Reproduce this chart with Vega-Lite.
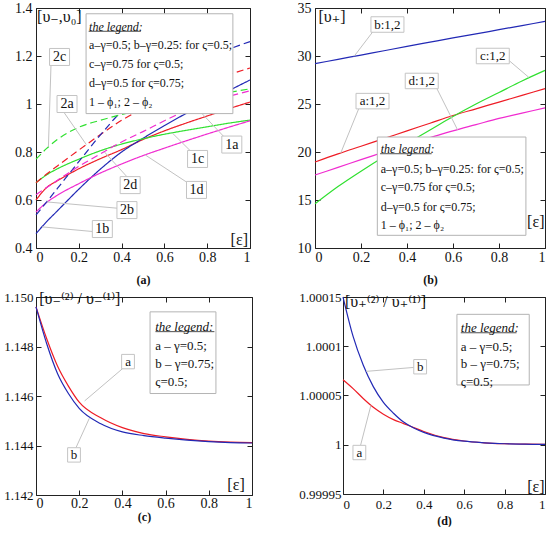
{
  "$schema": "https://vega.github.io/schema/vega-lite/v6.json",
  "padding": {"left": 0, "top": 0, "right": 0, "bottom": 0},
  "background": "white",
  "config": {
    "font": "Liberation Serif, DejaVu Serif, serif",
    "view": {"stroke": "#222", "strokeWidth": 1},
    "axis": {"grid": false, "domain": false, "tickSize": -5, "tickColor": "#222", "tickWidth": 1, "labelColor": "#111", "titleColor": "#111", "labelFont": "Liberation Serif, DejaVu Serif, serif", "titleFont": "Liberation Serif, DejaVu Serif, serif"},
    "text": {"font": "Liberation Serif, DejaVu Serif, serif"}
  },
  "datasets": {
    "a_lines": [
      {"g":"a","k":"1","x":0,"y":0.6},{"g":"a","k":"1","x":0.05,"y":0.652},{"g":"a","k":"1","x":0.1,"y":0.68},{"g":"a","k":"1","x":0.2,"y":0.73},{"g":"a","k":"1","x":0.3,"y":0.772},{"g":"a","k":"1","x":0.4,"y":0.81},{"g":"a","k":"1","x":0.5,"y":0.852},{"g":"a","k":"1","x":0.6,"y":0.888},{"g":"a","k":"1","x":0.7,"y":0.92},{"g":"a","k":"1","x":0.8,"y":0.95},{"g":"a","k":"1","x":0.9,"y":0.98},{"g":"a","k":"1","x":1,"y":1.008},
      {"g":"b","k":"1","x":0,"y":0.46},{"g":"b","k":"1","x":0.05,"y":0.51},{"g":"b","k":"1","x":0.1,"y":0.555},{"g":"b","k":"1","x":0.2,"y":0.645},{"g":"b","k":"1","x":0.3,"y":0.728},{"g":"b","k":"1","x":0.4,"y":0.8},{"g":"b","k":"1","x":0.5,"y":0.857},{"g":"b","k":"1","x":0.6,"y":0.91},{"g":"b","k":"1","x":0.7,"y":0.96},{"g":"b","k":"1","x":0.8,"y":1.008},{"g":"b","k":"1","x":0.9,"y":1.055},{"g":"b","k":"1","x":1,"y":1.1},
      {"g":"c","k":"1","x":0,"y":0.672},{"g":"c","k":"1","x":0.05,"y":0.705},{"g":"c","k":"1","x":0.1,"y":0.73},{"g":"c","k":"1","x":0.2,"y":0.77},{"g":"c","k":"1","x":0.3,"y":0.805},{"g":"c","k":"1","x":0.4,"y":0.833},{"g":"c","k":"1","x":0.5,"y":0.855},{"g":"c","k":"1","x":0.6,"y":0.874},{"g":"c","k":"1","x":0.7,"y":0.89},{"g":"c","k":"1","x":0.8,"y":0.905},{"g":"c","k":"1","x":0.9,"y":0.92},{"g":"c","k":"1","x":1,"y":0.933},
      {"g":"d","k":"1","x":0,"y":0.55},{"g":"d","k":"1","x":0.05,"y":0.59},{"g":"d","k":"1","x":0.1,"y":0.62},{"g":"d","k":"1","x":0.2,"y":0.668},{"g":"d","k":"1","x":0.3,"y":0.712},{"g":"d","k":"1","x":0.4,"y":0.75},{"g":"d","k":"1","x":0.5,"y":0.785},{"g":"d","k":"1","x":0.6,"y":0.816},{"g":"d","k":"1","x":0.7,"y":0.846},{"g":"d","k":"1","x":0.8,"y":0.875},{"g":"d","k":"1","x":0.9,"y":0.903},{"g":"d","k":"1","x":1,"y":0.93},
      {"g":"a","k":"2","x":0,"y":0.672},{"g":"a","k":"2","x":0.05,"y":0.708},{"g":"a","k":"2","x":0.1,"y":0.742},{"g":"a","k":"2","x":0.2,"y":0.808},{"g":"a","k":"2","x":0.3,"y":0.872},{"g":"a","k":"2","x":0.4,"y":0.932},{"g":"a","k":"2","x":0.5,"y":0.98},{"g":"a","k":"2","x":0.6,"y":1.02},{"g":"a","k":"2","x":0.7,"y":1.057},{"g":"a","k":"2","x":0.8,"y":1.09},{"g":"a","k":"2","x":0.9,"y":1.122},{"g":"a","k":"2","x":1,"y":1.15},
      {"g":"b","k":"2","x":0,"y":0.538},{"g":"b","k":"2","x":0.05,"y":0.592},{"g":"b","k":"2","x":0.1,"y":0.648},{"g":"b","k":"2","x":0.2,"y":0.76},{"g":"b","k":"2","x":0.3,"y":0.87},{"g":"b","k":"2","x":0.4,"y":0.97},{"g":"b","k":"2","x":0.5,"y":1.045},{"g":"b","k":"2","x":0.6,"y":1.103},{"g":"b","k":"2","x":0.7,"y":1.15},{"g":"b","k":"2","x":0.8,"y":1.192},{"g":"b","k":"2","x":0.9,"y":1.228},{"g":"b","k":"2","x":1,"y":1.26},
      {"g":"c","k":"2","x":0,"y":0.77},{"g":"c","k":"2","x":0.05,"y":0.815},{"g":"c","k":"2","x":0.1,"y":0.852},{"g":"c","k":"2","x":0.2,"y":0.903},{"g":"c","k":"2","x":0.3,"y":0.932},{"g":"c","k":"2","x":0.4,"y":0.956},{"g":"c","k":"2","x":0.5,"y":0.978},{"g":"c","k":"2","x":0.6,"y":0.997},{"g":"c","k":"2","x":0.7,"y":1.015},{"g":"c","k":"2","x":0.8,"y":1.032},{"g":"c","k":"2","x":0.9,"y":1.048},{"g":"c","k":"2","x":1,"y":1.063},
      {"g":"d","k":"2","x":0,"y":0.622},{"g":"d","k":"2","x":0.05,"y":0.652},{"g":"d","k":"2","x":0.1,"y":0.682},{"g":"d","k":"2","x":0.2,"y":0.74},{"g":"d","k":"2","x":0.3,"y":0.792},{"g":"d","k":"2","x":0.4,"y":0.842},{"g":"d","k":"2","x":0.5,"y":0.885},{"g":"d","k":"2","x":0.6,"y":0.93},{"g":"d","k":"2","x":0.7,"y":0.972},{"g":"d","k":"2","x":0.8,"y":1.006},{"g":"d","k":"2","x":0.9,"y":1.032},{"g":"d","k":"2","x":1,"y":1.055}
    ],
    "a_seg": [
      {"role":"lead","x":0.07,"y":1.16,"x2":0.058,"y2":0.822},
      {"role":"lead","x":0.13,"y":0.966,"x2":0.235,"y2":0.831},
      {"role":"lead","x":0.425,"y":0.697,"x2":0.32,"y2":0.8},
      {"role":"lead","x":0.39,"y":0.565,"x2":0.05,"y2":0.592},
      {"role":"lead","x":0.273,"y":0.468,"x2":0.028,"y2":0.488},
      {"role":"lead","x":0.715,"y":0.668,"x2":0.51,"y2":0.788},
      {"role":"lead","x":0.727,"y":0.8,"x2":0.636,"y2":0.88},
      {"role":"lead","x":0.88,"y":0.862,"x2":0.76,"y2":0.975},
      {"role":"ul","x":0.246,"y":1.303,"x2":0.49,"y2":1.303}
    ],
    "a_rect": [{"x":0.234,"x2":0.92,"y":0.96,"y2":1.376}],
    "a_txt": [
      {"role":"head","t":"the legend:","x":0.248,"y":1.321},
      {"role":"leg","t":"a–γ=0.5; b–γ=0.25: for ς=0.5;","x":0.248,"y":1.245},
      {"role":"leg","t":"c–γ=0.75 for ς=0.5;","x":0.248,"y":1.168},
      {"role":"leg","t":"d–γ=0.5 for ς=0.75;","x":0.248,"y":1.0875},
      {"role":"leg","t":"1 – ϕ₁; 2 – ϕ₂","x":0.248,"y":1.008},
      {"role":"box","t":"2c","x":0.11,"y":1.196},
      {"role":"box","t":"2a","x":0.145,"y":1.0},
      {"role":"box","t":"2d","x":0.44,"y":0.662},
      {"role":"box","t":"2b","x":0.425,"y":0.558},
      {"role":"box","t":"1b","x":0.31,"y":0.479},
      {"role":"box","t":"1d","x":0.75,"y":0.642},
      {"role":"box","t":"1c","x":0.755,"y":0.771},
      {"role":"box","t":"1a","x":0.915,"y":0.831},
      {"role":"ttl","t":"[υ₋,υ₀]","x":0.005,"y":1.3625},
      {"role":"eps","t":"[ε]","x":0.95,"y":0.433}
    ],
    "b_lines": [
      {"g":"a","x":0,"y":18.95},{"g":"a","x":0.1,"y":19.8},{"g":"a","x":0.2,"y":20.6},{"g":"a","x":0.3,"y":21.4},{"g":"a","x":0.4,"y":22.2},{"g":"a","x":0.5,"y":23.0},{"g":"a","x":0.6,"y":23.8},{"g":"a","x":0.7,"y":24.5},{"g":"a","x":0.8,"y":25.2},{"g":"a","x":0.9,"y":25.9},{"g":"a","x":1,"y":26.6},
      {"g":"b","x":0,"y":29.2},{"g":"b","x":0.1,"y":29.65},{"g":"b","x":0.2,"y":30.1},{"g":"b","x":0.3,"y":30.55},{"g":"b","x":0.4,"y":31.0},{"g":"b","x":0.5,"y":31.44},{"g":"b","x":0.6,"y":31.88},{"g":"b","x":0.7,"y":32.3},{"g":"b","x":0.8,"y":32.74},{"g":"b","x":0.9,"y":33.17},{"g":"b","x":1,"y":33.6},
      {"g":"c","x":0,"y":14.6},{"g":"c","x":0.1,"y":16.4},{"g":"c","x":0.2,"y":18.0},{"g":"c","x":0.3,"y":19.5},{"g":"c","x":0.4,"y":20.9},{"g":"c","x":0.5,"y":22.3},{"g":"c","x":0.6,"y":23.7},{"g":"c","x":0.7,"y":25.0},{"g":"c","x":0.8,"y":26.2},{"g":"c","x":0.9,"y":27.4},{"g":"c","x":1,"y":28.5},
      {"g":"d","x":0,"y":17.6},{"g":"d","x":0.1,"y":18.4},{"g":"d","x":0.2,"y":19.2},{"g":"d","x":0.3,"y":20.0},{"g":"d","x":0.4,"y":20.8},{"g":"d","x":0.5,"y":21.5},{"g":"d","x":0.6,"y":22.2},{"g":"d","x":0.7,"y":22.85},{"g":"d","x":0.8,"y":23.5},{"g":"d","x":0.9,"y":24.05},{"g":"d","x":1,"y":24.6}
    ],
    "b_seg": [
      {"role":"lead","x":0.25,"y":32.48,"x2":0.17,"y2":29.97},
      {"role":"lead","x":0.845,"y":29.5,"x2":0.93,"y2":27.77},
      {"role":"lead","x":0.53,"y":26.6,"x2":0.62,"y2":22.3},
      {"role":"lead","x":0.19,"y":24.5,"x2":0.112,"y2":19.9},
      {"role":"ul","x":0.283,"y":19.82,"x2":0.507,"y2":19.82}
    ],
    "b_rect": [{"x":0.271,"x2":0.917,"y":11.32,"y2":21.56}],
    "b_txt": [
      {"role":"head","t":"the legend:","x":0.286,"y":20.34},
      {"role":"leg","t":"a–γ=0.5; b–γ=0.25: for ς=0.5;","x":0.286,"y":18.26},
      {"role":"leg","t":"c–γ=0.75 for ς=0.5;","x":0.286,"y":16.35},
      {"role":"leg","t":"d–γ=0.5 for ς=0.75;","x":0.286,"y":14.27},
      {"role":"leg","t":"1 – ϕ₁; 2 – ϕ₂","x":0.286,"y":12.36},
      {"role":"box","t":"b:1,2","x":0.315,"y":33.28},
      {"role":"box","t":"c:1,2","x":0.773,"y":30.0},
      {"role":"box","t":"d:1,2","x":0.464,"y":27.4},
      {"role":"box","t":"a:1,2","x":0.25,"y":25.3},
      {"role":"ttl","t":"[υ₊]","x":0.015,"y":34.06},
      {"role":"eps","t":"[ε]","x":0.96,"y":12.7}
    ],
    "c_lines": [
      {"g":"a","x":0,"y":1.1496},{"g":"a","x":0.05,"y":1.1483},{"g":"a","x":0.1,"y":1.1472},{"g":"a","x":0.15,"y":1.1464},{"g":"a","x":0.2,"y":1.14575},{"g":"a","x":0.3,"y":1.14512},{"g":"a","x":0.4,"y":1.14472},{"g":"a","x":0.5,"y":1.14448},{"g":"a","x":0.6,"y":1.14435},{"g":"a","x":0.7,"y":1.14425},{"g":"a","x":0.8,"y":1.14418},{"g":"a","x":0.9,"y":1.14414},{"g":"a","x":1,"y":1.14412},
      {"g":"b","x":0,"y":1.1496},{"g":"b","x":0.05,"y":1.1481},{"g":"b","x":0.1,"y":1.1469},{"g":"b","x":0.15,"y":1.1461},{"g":"b","x":0.2,"y":1.1455},{"g":"b","x":0.3,"y":1.14488},{"g":"b","x":0.4,"y":1.14455},{"g":"b","x":0.5,"y":1.1444},{"g":"b","x":0.6,"y":1.1443},{"g":"b","x":0.7,"y":1.14422},{"g":"b","x":0.8,"y":1.14416},{"g":"b","x":0.9,"y":1.14412},{"g":"b","x":1,"y":1.1441}
    ],
    "c_seg": [
      {"role":"lead","x":0.4,"y":1.1471,"x2":0.225,"y2":1.1458},
      {"role":"lead","x":0.185,"y":1.14391,"x2":0.247,"y2":1.1451},
      {"role":"ul","x":0.553,"y":1.1486,"x2":0.826,"y2":1.1486}
    ],
    "c_rect": [{"x":0.528,"x2":0.833,"y":1.1461,"y2":1.1494}],
    "c_txt": [
      {"role":"head","t":"the legend:","x":0.552,"y":1.1488},
      {"role":"leg","t":"a – γ=0.5;","x":0.552,"y":1.14803},
      {"role":"leg","t":"b – γ=0.75;","x":0.552,"y":1.14728},
      {"role":"leg","t":"ς=0.5;","x":0.552,"y":1.14655},
      {"role":"box","t":"a","x":0.426,"y":1.14739},
      {"role":"box","t":"b","x":0.176,"y":1.14362},
      {"role":"ttl","t":"[υ₋⁽²⁾ / υ₋⁽¹⁾]","x":0.015,"y":1.1499},
      {"role":"eps","t":"[ε]","x":0.926,"y":1.1424}
    ],
    "d_lines": [
      {"g":"a","x":0,"y":1.000066},{"g":"a","x":0.05,"y":1.000057},{"g":"a","x":0.1,"y":1.000047},{"g":"a","x":0.15,"y":1.000038},{"g":"a","x":0.2,"y":1.000031},{"g":"a","x":0.25,"y":1.0000255},{"g":"a","x":0.3,"y":1.0000215},{"g":"a","x":0.35,"y":1.0000175},{"g":"a","x":0.4,"y":1.0000135},{"g":"a","x":0.5,"y":1.0000072},{"g":"a","x":0.6,"y":1.0000038},{"g":"a","x":0.7,"y":1.000002},{"g":"a","x":0.8,"y":1.0000011},{"g":"a","x":0.9,"y":1.0000006},{"g":"a","x":1,"y":1.0000003},
      {"g":"b","x":0,"y":1.00015},{"g":"b","x":0.05,"y":1.00011},{"g":"b","x":0.1,"y":1.000081},{"g":"b","x":0.15,"y":1.000059},{"g":"b","x":0.2,"y":1.000043},{"g":"b","x":0.25,"y":1.000032},{"g":"b","x":0.3,"y":1.000023},{"g":"b","x":0.35,"y":1.000017},{"g":"b","x":0.4,"y":1.0000126},{"g":"b","x":0.5,"y":1.0000068},{"g":"b","x":0.6,"y":1.0000036},{"g":"b","x":0.7,"y":1.000002},{"g":"b","x":0.8,"y":1.000001},{"g":"b","x":0.9,"y":1.0000006},{"g":"b","x":1,"y":1.0000003}
    ],
    "d_seg": [
      {"role":"lead","x":0.35,"y":1.0000785,"x2":0.115,"y2":1.0000745},
      {"role":"lead","x":0.087,"y":0.9999994,"x2":0.138,"y2":1.00004},
      {"role":"ul","x":0.583,"y":1.0001137,"x2":0.859,"y2":1.0001137}
    ],
    "d_rect": [{"x":0.564,"x2":0.922,"y":1.0000607,"y2":1.0001324}],
    "d_txt": [
      {"role":"head","t":"the legend:","x":0.583,"y":1.0001182},
      {"role":"leg","t":"a – γ=0.5;","x":0.583,"y":1.0000995},
      {"role":"leg","t":"b – γ=0.75;","x":0.583,"y":1.0000817},
      {"role":"leg","t":"ς=0.5;","x":0.583,"y":1.0000634},
      {"role":"box","t":"b","x":0.382,"y":1.0000792},
      {"role":"box","t":"a","x":0.081,"y":0.9999921},
      {"role":"ttl","t":"[υ₊⁽²⁾ / υ₊⁽¹⁾]","x":0.01,"y":1.0001452},
      {"role":"eps","t":"[ε]","x":0.955,"y":0.9999574}
    ]
  },
  "columns": 1,
  "align": "none",
  "spacing": 4,
  "concat": [
    {
      "bounds": "flush",
      "spacing": 65,
      "hconcat": [
        {
          "width": 214,
          "height": 240,
          "encoding": {
            "x": {"field": "x", "type": "quantitative", "scale": {"domain": [0, 1], "nice": false, "zero": false}, "axis": null},
            "y": {"field": "y", "type": "quantitative", "scale": {"domain": [0.4, 1.4], "nice": false, "zero": false}, "axis": null}
          },
          "layer": [
            {
              "data": {"name": "a_lines"},
              "mark": {"type": "line", "strokeWidth": 1.2, "interpolate": "monotone"},
              "encoding": {
                "x": {"field": "x", "type": "quantitative", "scale": {"domain": [0, 1], "nice": false, "zero": false},
                      "axis": {"orient": "bottom", "values": [0, 0.2, 0.4, 0.6, 0.8, 1], "format": ".1~f", "labelPadding": 7, "labelFontSize": 14, "title": "(a)", "titleFontSize": 12, "titleFontWeight": "bold", "titlePadding": 8, "minExtent": 18, "maxExtent": 18}},
                "y": {"field": "y", "type": "quantitative", "scale": {"domain": [0.4, 1.4], "nice": false, "zero": false},
                      "axis": {"orient": "left", "values": [0.4, 0.6, 0.8, 1, 1.2, 1.4], "format": ".1~f", "labelPadding": 9, "labelFontSize": 14, "title": null, "minExtent": 35, "maxExtent": 35}},
                "color": {"field": "g", "type": "nominal", "scale": {"domain": ["a", "b", "c", "d"], "range": ["#ee1c25", "#2229b5", "#2fe02f", "#f02bd0"]}, "legend": null},
                "strokeDash": {"field": "k", "type": "nominal", "scale": {"domain": ["1", "2"], "range": [[1, 0], [7, 4]]}, "legend": null}
              }
            },
            {
              "data": {"name": "a_seg"},
              "transform": [{"filter": "datum.role == 'lead'"}],
              "mark": {"type": "rule", "stroke": "#c2c2c2", "strokeWidth": 1},
              "encoding": {
                "x": {"field": "x", "type": "quantitative", "scale": {"domain": [0, 1], "nice": false, "zero": false},
                      "axis": {"orient": "top", "values": [0, 0.2, 0.4, 0.6, 0.8, 1], "labels": false, "title": null, "minExtent": 0, "maxExtent": 0}},
                "y": {"field": "y", "type": "quantitative", "scale": {"domain": [0.4, 1.4], "nice": false, "zero": false},
                      "axis": {"orient": "right", "values": [0.4, 0.6, 0.8, 1, 1.2, 1.4], "labels": false, "title": null, "minExtent": 0, "maxExtent": 0}},
                "x2": {"field": "x2"},
                "y2": {"field": "y2"}
              }
            },
            {
              "data": {"name": "a_rect"},
              "mark": {"type": "rect", "fill": "white", "stroke": "#b4b4b4", "strokeWidth": 1},
              "encoding": {"x2": {"field": "x2"}, "y2": {"field": "y2"}}
            },
            {
              "data": {"name": "a_seg"},
              "transform": [{"filter": "datum.role == 'ul'"}],
              "mark": {"type": "rule", "stroke": "#222", "strokeWidth": 0.8},
              "encoding": {"x2": {"field": "x2"}}
            },
            {
              "data": {"name": "a_txt"},
              "transform": [{"filter": "datum.role == 'head'"}],
              "mark": {"type": "text", "fontSize": 12, "fontStyle": "italic", "align": "left", "baseline": "middle", "fill": "#111"},
              "encoding": {"text": {"field": "t"}}
            },
            {
              "data": {"name": "a_txt"},
              "transform": [{"filter": "datum.role == 'leg'"}],
              "mark": {"type": "text", "fontSize": 12, "align": "left", "baseline": "middle", "fill": "#111"},
              "encoding": {"text": {"field": "t"}}
            },
            {
              "data": {"name": "a_txt"},
              "transform": [{"filter": "datum.role == 'box'"}],
              "mark": {"type": "point", "shape": "M-1,-0.85H1V0.85H-1Z", "size": 400, "filled": true, "fill": "white", "stroke": "#c4c4c4", "strokeWidth": 1, "opacity": 1}
            },
            {
              "data": {"name": "a_txt"},
              "transform": [{"filter": "datum.role == 'box'"}],
              "mark": {"type": "text", "fontSize": 14, "align": "center", "baseline": "middle", "fill": "#111"},
              "encoding": {"text": {"field": "t"}}
            },
            {
              "data": {"name": "a_txt"},
              "transform": [{"filter": "datum.role == 'ttl'"}],
              "mark": {"type": "text", "fontSize": 16, "align": "left", "baseline": "middle", "fill": "#111"},
              "encoding": {"text": {"field": "t"}}
            },
            {
              "data": {"name": "a_txt"},
              "transform": [{"filter": "datum.role == 'eps'"}],
              "mark": {"type": "text", "fontSize": 16, "align": "center", "baseline": "middle", "fill": "#111"},
              "encoding": {"text": {"field": "t"}}
            }
          ],
          "resolve": {"axis": {"x": "independent", "y": "independent"}}
        },
        {
          "width": 230,
          "height": 240,
          "encoding": {
            "x": {"field": "x", "type": "quantitative", "scale": {"domain": [0, 1], "nice": false, "zero": false}, "axis": null},
            "y": {"field": "y", "type": "quantitative", "scale": {"domain": [10, 35], "nice": false, "zero": false}, "axis": null}
          },
          "layer": [
            {
              "data": {"name": "b_lines"},
              "mark": {"type": "line", "strokeWidth": 1.2, "interpolate": "monotone"},
              "encoding": {
                "x": {"field": "x", "type": "quantitative", "scale": {"domain": [0, 1], "nice": false, "zero": false},
                      "axis": {"orient": "bottom", "values": [0, 0.2, 0.4, 0.6, 0.8, 1], "format": ".1~f", "labelPadding": 7, "labelFontSize": 14, "title": "(b)", "titleFontSize": 12, "titleFontWeight": "bold", "titlePadding": 8, "minExtent": 18, "maxExtent": 18}},
                "y": {"field": "y", "type": "quantitative", "scale": {"domain": [10, 35], "nice": false, "zero": false},
                      "axis": {"orient": "left", "values": [10, 15, 20, 25, 30, 35], "format": "d", "labelPadding": 9, "labelFontSize": 14, "title": null, "minExtent": 30, "maxExtent": 30}},
                "color": {"field": "g", "type": "nominal", "scale": {"domain": ["a", "b", "c", "d"], "range": ["#ee1c25", "#2229b5", "#2fe02f", "#f02bd0"]}, "legend": null}
              }
            },
            {
              "data": {"name": "b_seg"},
              "transform": [{"filter": "datum.role == 'lead'"}],
              "mark": {"type": "rule", "stroke": "#c2c2c2", "strokeWidth": 1},
              "encoding": {
                "x": {"field": "x", "type": "quantitative", "scale": {"domain": [0, 1], "nice": false, "zero": false},
                      "axis": {"orient": "top", "values": [0, 0.2, 0.4, 0.6, 0.8, 1], "labels": false, "title": null, "minExtent": 0, "maxExtent": 0}},
                "y": {"field": "y", "type": "quantitative", "scale": {"domain": [10, 35], "nice": false, "zero": false},
                      "axis": {"orient": "right", "values": [10, 15, 20, 25, 30, 35], "labels": false, "title": null, "minExtent": 0, "maxExtent": 0}},
                "x2": {"field": "x2"},
                "y2": {"field": "y2"}
              }
            },
            {
              "data": {"name": "b_rect"},
              "mark": {"type": "rect", "fill": "white", "stroke": "#b4b4b4", "strokeWidth": 1},
              "encoding": {"x2": {"field": "x2"}, "y2": {"field": "y2"}}
            },
            {
              "data": {"name": "b_seg"},
              "transform": [{"filter": "datum.role == 'ul'"}],
              "mark": {"type": "rule", "stroke": "#222", "strokeWidth": 0.8},
              "encoding": {"x2": {"field": "x2"}}
            },
            {
              "data": {"name": "b_txt"},
              "transform": [{"filter": "datum.role == 'head'"}],
              "mark": {"type": "text", "fontSize": 12, "fontStyle": "italic", "align": "left", "baseline": "middle", "fill": "#111"},
              "encoding": {"text": {"field": "t"}}
            },
            {
              "data": {"name": "b_txt"},
              "transform": [{"filter": "datum.role == 'leg'"}],
              "mark": {"type": "text", "fontSize": 12, "align": "left", "baseline": "middle", "fill": "#111"},
              "encoding": {"text": {"field": "t"}}
            },
            {
              "data": {"name": "b_txt"},
              "transform": [{"filter": "datum.role == 'box'"}],
              "mark": {"type": "point", "shape": "M-1,-0.47H1V0.47H-1Z", "size": 1089, "filled": true, "fill": "white", "stroke": "#c4c4c4", "strokeWidth": 1, "opacity": 1}
            },
            {
              "data": {"name": "b_txt"},
              "transform": [{"filter": "datum.role == 'box'"}],
              "mark": {"type": "text", "fontSize": 13, "align": "center", "baseline": "middle", "fill": "#111"},
              "encoding": {"text": {"field": "t"}}
            },
            {
              "data": {"name": "b_txt"},
              "transform": [{"filter": "datum.role == 'ttl'"}],
              "mark": {"type": "text", "fontSize": 16, "align": "left", "baseline": "middle", "fill": "#111"},
              "encoding": {"text": {"field": "t"}}
            },
            {
              "data": {"name": "b_txt"},
              "transform": [{"filter": "datum.role == 'eps'"}],
              "mark": {"type": "text", "fontSize": 16, "align": "center", "baseline": "middle", "fill": "#111"},
              "encoding": {"text": {"field": "t"}}
            }
          ],
          "resolve": {"axis": {"x": "independent", "y": "independent"}}
        }
      ]
    },
    {
      "bounds": "flush",
      "spacing": 91,
      "hconcat": [
        {
          "width": 216,
          "height": 198,
          "encoding": {
            "x": {"field": "x", "type": "quantitative", "scale": {"domain": [0, 1], "nice": false, "zero": false}, "axis": null},
            "y": {"field": "y", "type": "quantitative", "scale": {"domain": [1.142, 1.15], "nice": false, "zero": false}, "axis": null}
          },
          "layer": [
            {
              "data": {"name": "c_lines"},
              "mark": {"type": "line", "strokeWidth": 1.2, "interpolate": "monotone"},
              "encoding": {
                "x": {"field": "x", "type": "quantitative", "scale": {"domain": [0, 1], "nice": false, "zero": false},
                      "axis": {"orient": "bottom", "values": [0, 0.2, 0.4, 0.6, 0.8, 1], "format": ".1~f", "labelPadding": 6, "labelFontSize": 14, "title": "(c)", "titleFontSize": 12, "titleFontWeight": "bold", "titlePadding": 0, "minExtent": 16, "maxExtent": 16}},
                "y": {"field": "y", "type": "quantitative", "scale": {"domain": [1.142, 1.15], "nice": false, "zero": false},
                      "axis": {"orient": "left", "values": [1.142, 1.144, 1.146, 1.148, 1.15], "format": ".3f", "labelPadding": 8, "labelFontSize": 13, "title": null, "minExtent": 35, "maxExtent": 35}},
                "color": {"field": "g", "type": "nominal", "scale": {"domain": ["a", "b"], "range": ["#ee1c25", "#2229b5"]}, "legend": null}
              }
            },
            {
              "data": {"name": "c_seg"},
              "transform": [{"filter": "datum.role == 'lead'"}],
              "mark": {"type": "rule", "stroke": "#c2c2c2", "strokeWidth": 1},
              "encoding": {
                "x": {"field": "x", "type": "quantitative", "scale": {"domain": [0, 1], "nice": false, "zero": false},
                      "axis": {"orient": "top", "values": [0, 0.2, 0.4, 0.6, 0.8, 1], "labels": false, "title": null, "minExtent": 0, "maxExtent": 0}},
                "y": {"field": "y", "type": "quantitative", "scale": {"domain": [1.142, 1.15], "nice": false, "zero": false},
                      "axis": {"orient": "right", "values": [1.142, 1.144, 1.146, 1.148, 1.15], "labels": false, "title": null, "minExtent": 0, "maxExtent": 0}},
                "x2": {"field": "x2"},
                "y2": {"field": "y2"}
              }
            },
            {
              "data": {"name": "c_rect"},
              "mark": {"type": "rect", "fill": "white", "stroke": "#b4b4b4", "strokeWidth": 1},
              "encoding": {"x2": {"field": "x2"}, "y2": {"field": "y2"}}
            },
            {
              "data": {"name": "c_seg"},
              "transform": [{"filter": "datum.role == 'ul'"}],
              "mark": {"type": "rule", "stroke": "#222", "strokeWidth": 0.8},
              "encoding": {"x2": {"field": "x2"}}
            },
            {
              "data": {"name": "c_txt"},
              "transform": [{"filter": "datum.role == 'head'"}],
              "mark": {"type": "text", "fontSize": 13, "fontStyle": "italic", "align": "left", "baseline": "middle", "fill": "#111"},
              "encoding": {"text": {"field": "t"}}
            },
            {
              "data": {"name": "c_txt"},
              "transform": [{"filter": "datum.role == 'leg'"}],
              "mark": {"type": "text", "fontSize": 13, "align": "left", "baseline": "middle", "fill": "#111"},
              "encoding": {"text": {"field": "t"}}
            },
            {
              "data": {"name": "c_txt"},
              "transform": [{"filter": "datum.role == 'box'"}],
              "mark": {"type": "point", "shape": "M-0.8,-0.9H0.8V0.9H-0.8Z", "size": 256, "filled": true, "fill": "white", "stroke": "#c4c4c4", "strokeWidth": 1, "opacity": 1}
            },
            {
              "data": {"name": "c_txt"},
              "transform": [{"filter": "datum.role == 'box'"}],
              "mark": {"type": "text", "fontSize": 13, "align": "center", "baseline": "middle", "fill": "#111"},
              "encoding": {"text": {"field": "t"}}
            },
            {
              "data": {"name": "c_txt"},
              "transform": [{"filter": "datum.role == 'ttl'"}],
              "mark": {"type": "text", "fontSize": 16, "align": "left", "baseline": "middle", "fill": "#111"},
              "encoding": {"text": {"field": "t"}}
            },
            {
              "data": {"name": "c_txt"},
              "transform": [{"filter": "datum.role == 'eps'"}],
              "mark": {"type": "text", "fontSize": 16, "align": "center", "baseline": "middle", "fill": "#111"},
              "encoding": {"text": {"field": "t"}}
            }
          ],
          "resolve": {"axis": {"x": "independent", "y": "independent"}}
        },
        {
          "width": 202,
          "height": 197,
          "encoding": {
            "x": {"field": "x", "type": "quantitative", "scale": {"domain": [0, 1], "nice": false, "zero": false}, "axis": null},
            "y": {"field": "y", "type": "quantitative", "scale": {"domain": [0.99995, 1.00015], "nice": false, "zero": false}, "axis": null}
          },
          "layer": [
            {
              "data": {"name": "d_lines"},
              "mark": {"type": "line", "strokeWidth": 1.2, "interpolate": "monotone"},
              "encoding": {
                "x": {"field": "x", "type": "quantitative", "scale": {"domain": [0, 1], "nice": false, "zero": false},
                      "axis": {"orient": "bottom", "values": [0, 0.2, 0.4, 0.6, 0.8, 1], "format": ".1~f", "labelPadding": 9, "labelFontSize": 13, "title": "(d)", "titleFontSize": 12, "titleFontWeight": "bold", "titlePadding": 3, "minExtent": 18, "maxExtent": 18}},
                "y": {"field": "y", "type": "quantitative", "scale": {"domain": [0.99995, 1.00015], "nice": false, "zero": false},
                      "axis": {"orient": "left", "values": [0.99995, 1, 1.00005, 1.0001, 1.00015], "format": ".5~f", "labelPadding": 7, "labelFontSize": 13, "title": null, "minExtent": 45, "maxExtent": 45}},
                "color": {"field": "g", "type": "nominal", "scale": {"domain": ["a", "b"], "range": ["#ee1c25", "#2229b5"]}, "legend": null}
              }
            },
            {
              "data": {"name": "d_seg"},
              "transform": [{"filter": "datum.role == 'lead'"}],
              "mark": {"type": "rule", "stroke": "#c2c2c2", "strokeWidth": 1},
              "encoding": {
                "x": {"field": "x", "type": "quantitative", "scale": {"domain": [0, 1], "nice": false, "zero": false},
                      "axis": {"orient": "top", "values": [0, 0.2, 0.4, 0.6, 0.8, 1], "labels": false, "title": null, "minExtent": 0, "maxExtent": 0}},
                "y": {"field": "y", "type": "quantitative", "scale": {"domain": [0.99995, 1.00015], "nice": false, "zero": false},
                      "axis": {"orient": "right", "values": [0.99995, 1, 1.00005, 1.0001, 1.00015], "labels": false, "title": null, "minExtent": 0, "maxExtent": 0}},
                "x2": {"field": "x2"},
                "y2": {"field": "y2"}
              }
            },
            {
              "data": {"name": "d_rect"},
              "mark": {"type": "rect", "fill": "white", "stroke": "#b4b4b4", "strokeWidth": 1},
              "encoding": {"x2": {"field": "x2"}, "y2": {"field": "y2"}}
            },
            {
              "data": {"name": "d_seg"},
              "transform": [{"filter": "datum.role == 'ul'"}],
              "mark": {"type": "rule", "stroke": "#222", "strokeWidth": 0.8},
              "encoding": {"x2": {"field": "x2"}}
            },
            {
              "data": {"name": "d_txt"},
              "transform": [{"filter": "datum.role == 'head'"}],
              "mark": {"type": "text", "fontSize": 13, "fontStyle": "italic", "align": "left", "baseline": "middle", "fill": "#111"},
              "encoding": {"text": {"field": "t"}}
            },
            {
              "data": {"name": "d_txt"},
              "transform": [{"filter": "datum.role == 'leg'"}],
              "mark": {"type": "text", "fontSize": 13, "align": "left", "baseline": "middle", "fill": "#111"},
              "encoding": {"text": {"field": "t"}}
            },
            {
              "data": {"name": "d_txt"},
              "transform": [{"filter": "datum.role == 'box'"}],
              "mark": {"type": "point", "shape": "M-0.8,-0.9H0.8V0.9H-0.8Z", "size": 256, "filled": true, "fill": "white", "stroke": "#c4c4c4", "strokeWidth": 1, "opacity": 1}
            },
            {
              "data": {"name": "d_txt"},
              "transform": [{"filter": "datum.role == 'box'"}],
              "mark": {"type": "text", "fontSize": 13, "align": "center", "baseline": "middle", "fill": "#111"},
              "encoding": {"text": {"field": "t"}}
            },
            {
              "data": {"name": "d_txt"},
              "transform": [{"filter": "datum.role == 'ttl'"}],
              "mark": {"type": "text", "fontSize": 16, "align": "left", "baseline": "middle", "fill": "#111"},
              "encoding": {"text": {"field": "t"}}
            },
            {
              "data": {"name": "d_txt"},
              "transform": [{"filter": "datum.role == 'eps'"}],
              "mark": {"type": "text", "fontSize": 16, "align": "center", "baseline": "middle", "fill": "#111"},
              "encoding": {"text": {"field": "t"}}
            }
          ],
          "resolve": {"axis": {"x": "independent", "y": "independent"}}
        }
      ]
    }
  ]
}
